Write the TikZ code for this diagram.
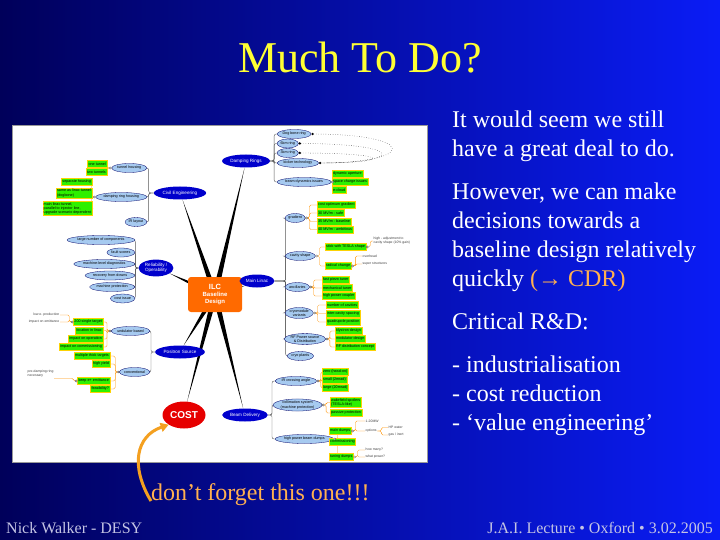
\documentclass[tikz,border=0pt]{standalone}
\usepackage{fontspec}
\setmainfont{Liberation Serif}
\newfontfamily\mapfont{Liberation Sans}
\usetikzlibrary{shapes.geometric,calc,arrows.meta}
\pgfdeclarelayer{back}
\pgfdeclarelayer{limbs}
\pgfsetlayers{back,limbs,main}
\definecolor{slidedark}{HTML}{00005A}
\definecolor{slidebright}{HTML}{0A1CF6}
\definecolor{titleyellow}{HTML}{FFFF33}
\definecolor{noteorange}{HTML}{FFB050}
\definecolor{footgray}{HTML}{C4C4E4}
\definecolor{branchblue}{HTML}{0000CC}
\definecolor{topicblue}{HTML}{A6CAF0}
\definecolor{leafgreen}{HTML}{2EF000}
\definecolor{ilcorange}{HTML}{FF6A00}
\definecolor{costred}{HTML}{E60000}
\definecolor{remindorange}{HTML}{F4A020}
\tikzset{
  hub/.style={fill=ilcorange, rounded corners=3pt, text=white, align=center,
    minimum width=54pt, minimum height=35pt, inner sep=1pt,
    font=\mapfont\bfseries\fontsize{6}{7}\selectfont},
  branch/.style={ellipse, fill=branchblue, text=white, inner sep=1.2pt, minimum height=13pt,
    align=center, font=\mapfont\fontsize{4.6}{5.2}\selectfont},
  costnode/.style={ellipse, fill=costred, text=white, minimum width=43pt, minimum height=27pt,
    inner sep=0pt, font=\mapfont\bfseries\fontsize{10}{11}\selectfont},
  topic/.style={ellipse, draw=blue!40!black, line width=0.3pt, fill=topicblue, inner sep=0.4pt,
    minimum height=9pt, align=center, font=\mapfont\fontsize{3.7}{4.3}\selectfont},
  leaf/.style={draw=yellow!70!orange, line width=0.3pt, fill=leafgreen, inner sep=1pt,
    minimum height=7pt, align=left, font=\mapfont\fontsize{3.7}{4.3}\selectfont},
  memo/.style={inner sep=0.5pt, align=left, text=black!75, font=\mapfont\fontsize{3.4}{4}\selectfont},
  twig/.style={line width=0.4pt, black!65, rounded corners=2pt},
  sprig/.style={line width=0.3pt, orange!85!yellow, rounded corners=1.5pt},
  remind/.style={line width=3pt, remindorange, -{Triangle[length=8pt,width=9pt]}},
}
% tapered connector from the hub to a branch
\newcommand{\limb}[2]{%
  \fill ($(#1)!2.8pt!90:(#2)$) -- ($(#1)!2.8pt!-90:(#2)$) -- (#2) -- cycle;%
}
% little knot where the sprigs leave a topic
\newcommand{\knot}[1]{\draw[black!70,line width=0.3pt,fill=white] (#1) circle (1.1);}

\begin{document}
\begin{tikzpicture}[x=1pt,y=-1pt]
  \useasboundingbox (0,0) rectangle (720,540);
  \begin{pgfonlayer}{back}
    \shade[left color=slidedark, right color=slidebright] (0,0) rectangle (720,540);
    \draw[fill=white, draw=black!40, line width=0.4pt] (12,125) rectangle (427,462);
  \end{pgfonlayer}

  % slide text
  \node (title) [text=titleyellow, font=\fontsize{44}{50}\selectfont] at (360,58) {Much To Do?};
  \node (remarks) [anchor=north west, inner sep=0pt, align=left, text=white,
    font=\fontsize{24}{29}\selectfont] at (452,111) {%
    It would seem we still\\
    have a great deal to do.\\[14pt]
    However, we can make\\
    decisions towards a\\
    baseline design relatively\\
    quickly {\color{noteorange}(→ CDR)}\\[14pt]
    Critical R\&D:\\[14pt]
    - industrialisation\\
    - cost reduction\\
    - ‘value engineering’};
  \node (forget) [anchor=west, inner sep=0pt, text=noteorange, font=\fontsize{24}{28}\selectfont]
    at (151,495) {don’t forget this one!!!};
  \node (author) [anchor=west, inner sep=0pt, text=footgray, font=\fontsize{16}{18}\selectfont]
    at (6,528) {Nick Walker - DESY};
  \node (lecture) [anchor=east, inner sep=0pt, text=footgray, font=\fontsize{16}{18}\selectfont]
    at (713,528) {J.A.I. Lecture • Oxford • 3.02.2005};

  % mind map: hub and branches
  \node (ilc) [hub] at (215,294.5) {{\fontsize{7.5}{8}\selectfont ILC}\\Baseline\\Design};
  \node (dr) [branch] at (246,161) {Damping Rings};
  \node (ce) [branch] at (180,193) {Civil Engineering};
  \node (rel) [branch] at (156,268) {Reliability /\\Operability};
  \node (ml) [branch] at (257,281) {Main Linac};
  \node (ps) [branch] at (180,352) {Positron Source};
  \node (cost) [costnode] at (184,415) {COST};
  \node (bd) [branch] at (245,415) {Beam Delivery};

  % civil engineering
  \node (ce1) [topic,anchor=east] at (147,168) {tunnel housing};
  \node (ce2) [topic,anchor=east] at (147,197) {damping ring housing};
  \node (ce3) [topic,anchor=east] at (147,222) {IR layout};
  \node (ce1a) [leaf,anchor=east] at (107,164) {one tunnel};
  \node (ce1b) [leaf,anchor=east] at (107,172) {two tunnels};
  \node (ce2a) [leaf,anchor=east] at (92,182) {separate housing};
  \node (ce2b) [leaf,anchor=east] at (92,193) {same as linac tunnel\\(dogbone)};
  \node (ce2c) [leaf,anchor=east] at (92,208.5) {main linac tunnel,\\parallel to injector line,\\upgrade scenario dependent};

  % reliability
  \node (rel1) [topic,anchor=east] at (135,240) {large number of components};
  \node (rel2) [topic,anchor=east] at (135,252.5) {fault scores};
  \node (rel3) [topic,anchor=east] at (135,264) {machine-level diagnostics};
  \node (rel4) [topic,anchor=east] at (135,275.5) {recovery from downs};
  \node (rel5) [topic,anchor=east] at (135,287) {machine protection};
  \node (rel6) [topic,anchor=east] at (135,298.5) {cost issue};

  % damping rings
  \node (dr1) [topic,anchor=west] at (277,134) {Dog bone ring};
  \node (dr2) [topic,anchor=west] at (277,143.5) {6km ring};
  \node (dr3) [topic,anchor=west] at (277,153) {3km ring};
  \node (dr4) [topic,anchor=west] at (277,163) {kicker technology};
  \node (dr5) [topic,anchor=west] at (277,182) {beam dynamics issues};
  \node (dr5a) [leaf,anchor=west] at (332,174) {dynamic aperture};
  \node (dr5b) [leaf,anchor=west] at (332,182) {space charge issues};
  \node (dr5c) [leaf,anchor=west] at (332,190) {e-cloud};

  % main linac
  \node (ml1) [topic,anchor=west] at (285,218) {gradient};
  \node (ml1a) [leaf,anchor=west] at (317,205) {cost optimum gradient};
  \node (ml1b) [leaf,anchor=west] at (317,213) {30 MV/m - safe};
  \node (ml1c) [leaf,anchor=west] at (317,221.5) {35 MV/m - baseline};
  \node (ml1d) [leaf,anchor=west] at (317,229.5) {40 MV/m - ambitious};
  \node (ml2) [topic,anchor=west] at (285,256) {cavity shape};
  \node (ml2a) [leaf,anchor=west] at (325,247) {stick with TESLA shape};
  \node (ml2b) [leaf,anchor=west] at (325,266) {radical change};
  \node (ml2a1) [memo,anchor=west] at (373,241) {high - adjustment to\\cavity shape (10\% gain)};
  \node (ml2b1) [memo,anchor=west] at (362,256) {overhead};
  \node (ml2b2) [memo,anchor=west] at (362,264) {super structures};
  \node (ml3) [topic,anchor=west] at (285,287) {ancillaries};
  \node (ml3a) [leaf,anchor=west] at (322,280) {fast piezo tuner};
  \node (ml3b) [leaf,anchor=west] at (322,288) {mechanical tuner};
  \node (ml3c) [leaf,anchor=west] at (322,296) {high power coupler};
  \node (ml4) [topic,anchor=west] at (285,313) {cryomodule\\variants};
  \node (ml4a) [leaf,anchor=west] at (326,305) {number of cavities};
  \node (ml4b) [leaf,anchor=west] at (326,313.5) {inter-cavity spacing};
  \node (ml4c) [leaf,anchor=west] at (326,322) {quadrupole position};
  \node (ml5) [topic,anchor=west] at (284,339) {RF Power source\\\& Distribution};
  \node (ml5a) [leaf,anchor=west] at (335,331) {klystron design};
  \node (ml5b) [leaf,anchor=west] at (335,339) {modulator design};
  \node (ml5c) [leaf,anchor=west] at (335,347) {RF distribution concept};
  \node (ml6) [topic,anchor=west] at (287,356) {cryo plants};

  % positron source
  \node (ps1) [topic,anchor=east] at (150,331) {undulator based};
  \node (ps1a) [leaf,anchor=east] at (103,322) {200 single target};
  \node (ps1b) [leaf,anchor=east] at (103,330.5) {location in linac};
  \node (ps1c) [leaf,anchor=east] at (103,339) {impact on operation};
  \node (ps1d) [leaf,anchor=east] at (103,347) {impact on commissioning};
  \node (ps1a1) [memo,anchor=east] at (60,315) {low e- production};
  \node (ps1a2) [memo,anchor=east] at (60,322) {impact on emittance};
  \node (ps2) [topic,anchor=east] at (150,372) {conventional};
  \node (ps2a) [leaf,anchor=east] at (110,356) {multiple thick targets};
  \node (ps2b) [leaf,anchor=east] at (110,364) {high yield};
  \node (ps2c) [leaf,anchor=east] at (110,381) {keep e+ emittance};
  \node (ps2d) [leaf,anchor=east] at (110,389) {feasibility?};
  \node (ps2c1) [memo,anchor=west] at (27,374) {pre-damping ring\\necessary};

  % beam delivery
  \node (bd1) [topic,anchor=west] at (275,381) {IR crossing angle};
  \node (bd1a) [leaf,anchor=west] at (322,372) {zero (head-on)};
  \node (bd1b) [leaf,anchor=west] at (322,380) {small (2mrad)};
  \node (bd1c) [leaf,anchor=west] at (322,388) {large (20mrad)};
  \node (bd2) [topic,anchor=west] at (273,405) {collimation system\\(machine protection)};
  \node (bd2a) [leaf,anchor=west] at (330,402.5) {wakefield spoilers\\(TESLA-like)};
  \node (bd2b) [leaf,anchor=west] at (330,413) {passive protection};
  \node (bd3) [topic,anchor=west] at (275,439) {high power beam dumps};
  \node (bd3a) [leaf,anchor=west] at (329,431) {main dumps};
  \node (bd3b) [leaf,anchor=west] at (329,442) {commissioning};
  \node (bd3c) [leaf,anchor=west] at (329,457) {tuning dumps};
  \node (bd3a1) [memo,anchor=west] at (365,421) {1-20MW};
  \node (bd3a2) [memo,anchor=west] at (365,431) {options};
  \node (bd3a21) [memo,anchor=west] at (388,427.5) {HP water};
  \node (bd3a22) [memo,anchor=west] at (388,435) {gas / inert};
  \node (bd3c1) [memo,anchor=west] at (365,450) {how many?};
  \node (bd3c2) [memo,anchor=west] at (365,457) {what power?};

  \begin{pgfonlayer}{limbs}
    \foreach \b in {dr,ce,rel,ml,ps,cost,bd} {\limb{ilc}{\b}}
    % topic brackets
    \foreach \t in {ce1,ce2,ce3} \draw[twig] (ce.west) -- ++(-5,0) |- (\t.east);
    \foreach \t in {rel1,rel2,rel3,rel4,rel5,rel6} \draw[twig] (rel.west) -- ++(-3,0) |- (\t.east);
    \foreach \t in {dr1,dr2,dr3,dr4,dr5} \draw[twig] (dr.east) -- ++(4,0) |- (\t.west);
    \foreach \t in {ml1,ml2,ml3,ml4,ml5,ml6} \draw[twig] (ml.east) -- ++(11,0) |- (\t.west);
    \foreach \t in {ps1,ps2} \draw[twig] (ps.west) -- ++(-4,0) |- (\t.east);
    \foreach \t in {bd1,bd2,bd3} \draw[twig] (bd.east) -- ++(4,0) |- (\t.west);
    % leaf brackets, left side
    \foreach \t/\l in {ce1/ce1a,ce1/ce1b,ce2/ce2a,ce2/ce2b,ce2/ce2c,ps1/ps1a,ps1/ps1b,ps1/ps1c,ps1/ps1d,
                       ps2/ps2a,ps2/ps2b,ps2/ps2c,ps2/ps2d,ps1a/ps1a1,ps1a/ps1a2}
      \draw[sprig] (\t.west) -- ++(-4,0) |- (\l.east);
    \draw[sprig] (ps2c.west) -- ++(-4,0) |- (ps2c1.south east);
    % leaf brackets, right side
    \foreach \t/\l in {dr5/dr5a,dr5/dr5b,dr5/dr5c,ml1/ml1a,ml1/ml1b,ml1/ml1c,ml1/ml1d,ml2/ml2a,ml2/ml2b,
                       ml3/ml3a,ml3/ml3b,ml3/ml3c,ml4/ml4a,ml4/ml4b,ml4/ml4c,ml5/ml5a,ml5/ml5b,ml5/ml5c,
                       bd1/bd1a,bd1/bd1b,bd1/bd1c,bd2/bd2a,bd2/bd2b,bd3/bd3a,bd3/bd3b,bd3/bd3c,
                       ml2a/ml2a1,ml2b/ml2b1,ml2b/ml2b2,bd3a/bd3a1,bd3a/bd3a2,bd3a2/bd3a21,bd3a2/bd3a22,
                       bd3c/bd3c1,bd3c/bd3c2}
      \draw[sprig] (\t.east) -- ++(4,0) |- (\l.west);
  \end{pgfonlayer}
  \foreach \t in {ce1,ce2,ps1,ps2,ps1a,ps2c} {\knot{$(\t.west)+(-1.1,0)$}}
  \foreach \t in {dr5,ml1,ml2,ml3,ml4,ml5,bd1,bd2,bd3,ml2a,ml2b,bd3a,bd3c} {\knot{$(\t.east)+(1.1,0)$}}

  % ring links
  \draw[dotted,line width=0.4pt] (dr1.east) .. controls (418,134) and (418,163) .. (dr4.east);
  \draw[dotted,line width=0.4pt] (dr2.east) .. controls (406,143.5) and (406,163) .. (dr4.east);
  \draw[dotted,line width=0.4pt] (dr3.east) .. controls (394,153) and (394,163) .. (dr4.east);
  \foreach \t in {dr1,dr2,dr3,dr4} \fill ($(\t.east)+(1.3,0)$) circle (1.3);

  % reminder
  \draw[remind] ([yshift=-6pt]forget.west) .. controls (130,466) and (136,436) .. (cost.south west);
\end{tikzpicture}
\end{document}
